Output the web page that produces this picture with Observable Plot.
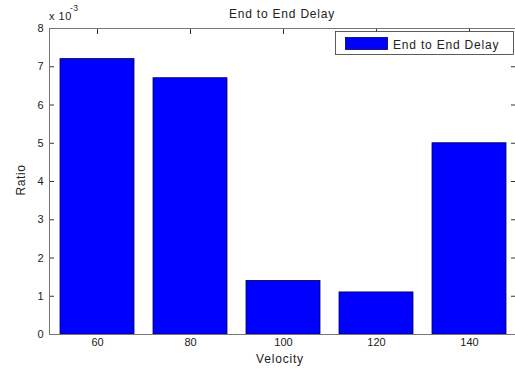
<!DOCTYPE html>
<html><head><meta charset="utf-8">
<script src="https://cdn.jsdelivr.net/npm/d3@7"></script>
<script src="https://cdn.jsdelivr.net/npm/@observablehq/plot@0.6"></script>
<style>
body{margin:0;background:#fff;}
svg{font-family:"Liberation Sans",Arial,sans-serif;}
</style>
</head><body><div id="chart"></div>
<script>
const velocities = ["60", "80", "100", "120", "140"];
const delays = [0.0072, 0.0067, 0.0014, 0.0011, 0.0050];
const yTickValues = [0, 0.001, 0.002, 0.003, 0.004, 0.005, 0.006, 0.007, 0.008];
const seriesName = "End to End Delay";
const titleText = "End to End Delay";
const xLabel = "Velocity";
const yLabel = "Ratio";

const data = velocities.map((v, i) => ({v, d: delays[i]}));
const tickColor = "#333";
const frameColor = "#777";

const chart = Plot.plot({
  width: 515, height: 370,
  marginLeft: 49, marginRight: 0, marginTop: 28, marginBottom: 36,
  style: {fontFamily: '"Liberation Sans", Arial, sans-serif', fontSize: "11px", color: "#222", background: "#fff"},
  x: {domain: velocities, range: [49, 517], paddingInner: 0.2, paddingOuter: 0.1, label: null},
  y: {domain: [0, 0.008], label: null},
  marks: [
    Plot.axisX({anchor: "bottom", tickSize: -5, fill: "none", stroke: tickColor, label: null}),
    Plot.barY(data, {x: "v", y: "d", fill: "#0000ff", stroke: "#00004d", strokeWidth: 0.8}),
    Plot.axisX({anchor: "top", tickSize: -5, fill: "none", stroke: tickColor, label: null}),
    Plot.axisY({anchor: "left", ticks: yTickValues, tickSize: -5, fill: "none", stroke: tickColor, label: null}),
    Plot.axisY({anchor: "right", ticks: yTickValues, tickSize: -5, fill: "none", stroke: tickColor, label: null}),
    Plot.frame({anchor: "left", stroke: frameColor}),
    Plot.frame({anchor: "top", stroke: frameColor}),
    Plot.frame({anchor: "bottom", stroke: frameColor}),
    Plot.axisX({anchor: "bottom", tickSize: 0, tickPadding: 4, label: null, fill: "#222"}),
    Plot.axisY({anchor: "left", ticks: yTickValues, tickSize: 0, tickPadding: 6, label: null, fill: "#222",
      tickFormat: d => String(Math.round(d * 1000))})
  ]
});

const svg = d3.select(chart);
const addText = (x, y, s, opts = {}) => svg.append("text")
  .attr("x", x).attr("y", y)
  .attr("text-anchor", opts.anchor || "start")
  .attr("font-size", opts.size || 12)
  .attr("letter-spacing", opts.ls != null ? opts.ls : 0.8)
  .attr("fill", "#222")
  .text(s);

addText(282, 17.5, titleText, {anchor: "middle"});
addText(280, 363, xLabel, {anchor: "middle"});
svg.append("text").attr("transform", "translate(25,180) rotate(-90)")
  .attr("text-anchor", "middle").attr("font-size", 12).attr("letter-spacing", 0.6)
  .attr("fill", "#222").text(yLabel);
addText(49, 20, "x 10", {size: 11, ls: 0.5});
addText(70, 11, "-3", {size: 8.5, ls: 0.3});

const lg = svg.append("g");
lg.append("rect").attr("x", 335.5).attr("y", 31.5).attr("width", 178).attr("height", 23)
  .attr("fill", "#fff").attr("stroke", "#333").attr("stroke-width", 0.8);
lg.append("rect").attr("x", 345.5).attr("y", 37.5).attr("width", 42).attr("height", 12)
  .attr("fill", "#0000ff").attr("stroke", "#00004d").attr("stroke-width", 0.8);
addText(393, 48.5, seriesName, {anchor: "start"});

document.getElementById("chart").appendChild(chart);
</script>
</body></html>
